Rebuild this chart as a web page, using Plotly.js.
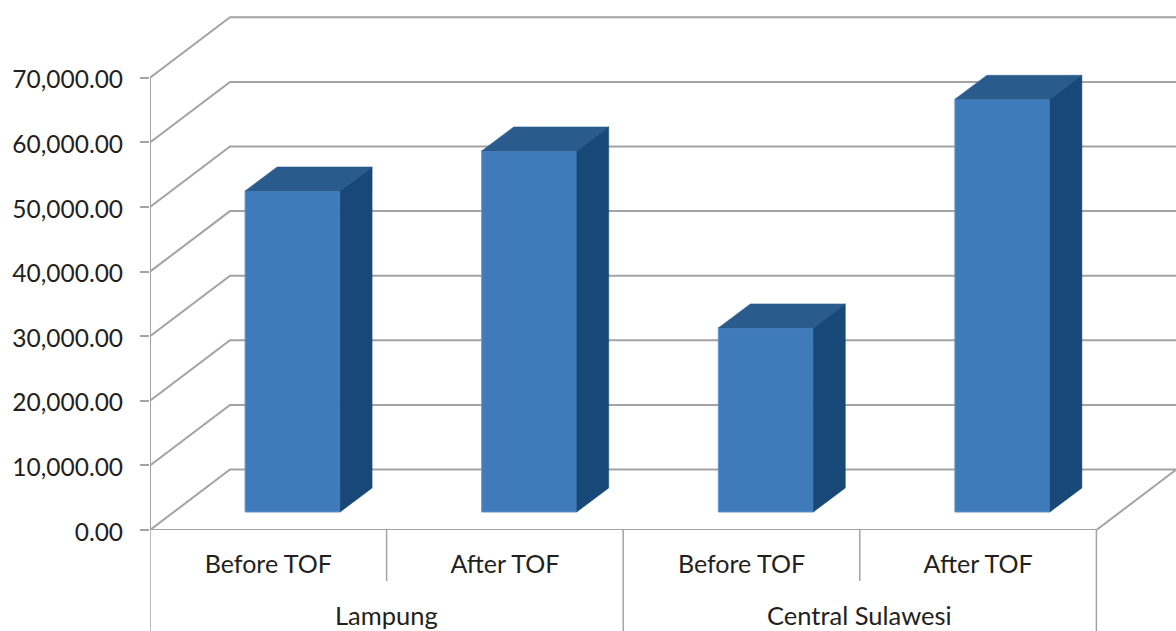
<!DOCTYPE html>
<html>
<head>
<meta charset="utf-8">
<script src="https://cdn.plot.ly/plotly-3.0.1.min.js"></script>
<style>html,body{margin:0;padding:0;background:#fff;overflow:hidden}#chart{width:1176px;height:631px}</style>
</head>
<body>
<div id="chart"></div>
<script>
var categories = ["Before TOF", "After TOF", "Before TOF", "After TOF"];
var groups = ["Lampung", "Central Sulawesi"];
var values = [49700, 55900, 28500, 63900];
var yTicks = [0, 10000, 20000, 30000, 40000, 50000, 60000, 70000];

var W = 1176, H = 631, L = 150, B = 101;
var pxPerCat = 236.6, pxPerUnit = 64.6 / 10000;
var xU = function (px) { return px / pxPerCat; };
var yU = function (px) { return px / pxPerUnit; };
var catPos = categories.map(function (_, i) { return i; });
var groupPos = [0.5, 2.5];
var xMin = -0.5, xMax = xMin + (W - L) / pxPerCat, yMax = yU(H - B);
var wallDx = xU(80), wallDy = yU(60.5);
var barShift = xU(24.3), barW = xU(95), barBase = yU(18);
var depthX = xU(32), depthY = yU(24);
var edgeX = xMin + 4;

var GRID = '#A3A3A3', FRONT = '#3F7BBA', TOP = '#2A5B8D', SIDE = '#174877', TXT = '#231F20';
var FONT = 'Lato, "Open Sans", sans-serif';

// back wall, side wall and floor lines sit below the bars
var wallShapes = yTicks.map(function (v) {
  return { type: 'path', xref: 'x', yref: 'y', layer: 'below',
    path: 'M' + xMin + ',' + v + ' L' + (xMin + wallDx) + ',' + (v + wallDy) + ' L' + xMax + ',' + (v + wallDy),
    line: { color: GRID, width: 2 } };
});
wallShapes.push({ type: 'line', xref: 'x', yref: 'y', layer: 'below', x0: edgeX, y0: 0, x1: xMax,
  y1: wallDy * (xMax - edgeX) / wallDx, line: { color: GRID, width: 2 } });

// front axes
var axis = { type: 'scatter', mode: 'lines', cliponaxis: false,
  x: [xMin, xMin, null, xMin, edgeX],
  y: [yTicks[yTicks.length - 1], 0, null, 0, 0],
  line: { color: GRID, width: 2 }, hoverinfo: 'skip', showlegend: false };

var bars = { type: 'bar', x: catPos.map(function (c) { return c + barShift; }), y: values,
  base: values.map(function () { return barBase; }), width: barW,
  marker: { color: FRONT, line: { color: '#5E95CD', width: 1 } }, showlegend: false };

var faces = [];
values.forEach(function (v, i) {
  var x0 = catPos[i] + barShift - barW / 2, x1 = x0 + barW;
  var yb = barBase, yt = barBase + v;
  faces.push({ type: 'scatter', mode: 'lines', fill: 'toself', fillcolor: TOP,
    x: [x0, x0 + depthX, x1 + depthX, x1, x0], y: [yt, yt + depthY, yt + depthY, yt, yt],
    line: { color: TOP, width: 0.5 }, hoverinfo: 'skip', showlegend: false });
  faces.push({ type: 'scatter', mode: 'lines', fill: 'toself', fillcolor: SIDE,
    x: [x1, x1 + depthX, x1 + depthX, x1, x1], y: [yb, yb + depthY, yt + depthY, yt, yb],
    line: { color: SIDE, width: 0.5 }, hoverinfo: 'skip', showlegend: false });
});

// category dividers below the axis
var pyInner = -51 / (H - B), pyOuter = -101 / (H - B);
var dividers = [-0.5, 0.5, 1.5, 2.5, 3.5].map(function (x, i) {
  return { type: 'line', xref: 'x', yref: 'paper', x0: x, x1: x, y0: 0,
    y1: i % 2 === 0 ? pyOuter : pyInner, line: { color: GRID, width: 1.5 } };
});

var layout = {
  width: W, height: H, paper_bgcolor: '#fff', plot_bgcolor: 'rgba(0,0,0,0)',
  margin: { l: L, r: 0, t: 0, b: B, pad: 0 },
  font: { family: FONT, color: TXT },
  showlegend: false, bargap: 0,
  xaxis: { type: 'linear', range: [xMin, xMax], tickmode: 'array', tickvals: catPos, ticktext: categories,
    ticks: '', showgrid: false, zeroline: false, showline: false, ticklabelstandoff: 17,
    tickfont: { family: FONT, size: 25, color: TXT } },
  yaxis: { range: [0, yMax], tickmode: 'array', tickvals: yTicks, tickformat: ',.2f',
    ticks: 'outside', ticklen: 9, tickwidth: 2, tickcolor: GRID, showgrid: false, zeroline: false, showline: false,
    ticklabelstandoff: 12, ticklabelshift: 2, tickfont: { family: FONT, size: 24.5, color: TXT } },
  shapes: wallShapes.concat(dividers),
  annotations: groups.map(function (g, i) {
    return { text: g, xref: 'x', yref: 'paper', x: groupPos[i], y: -85 / (H - B),
      xanchor: 'center', yanchor: 'middle', showarrow: false,
      font: { family: FONT, size: 25.5, color: TXT } };
  })
};

Plotly.newPlot('chart', [axis, bars].concat(faces), layout, { displayModeBar: false, staticPlot: true });
</script>
</body>
</html>
